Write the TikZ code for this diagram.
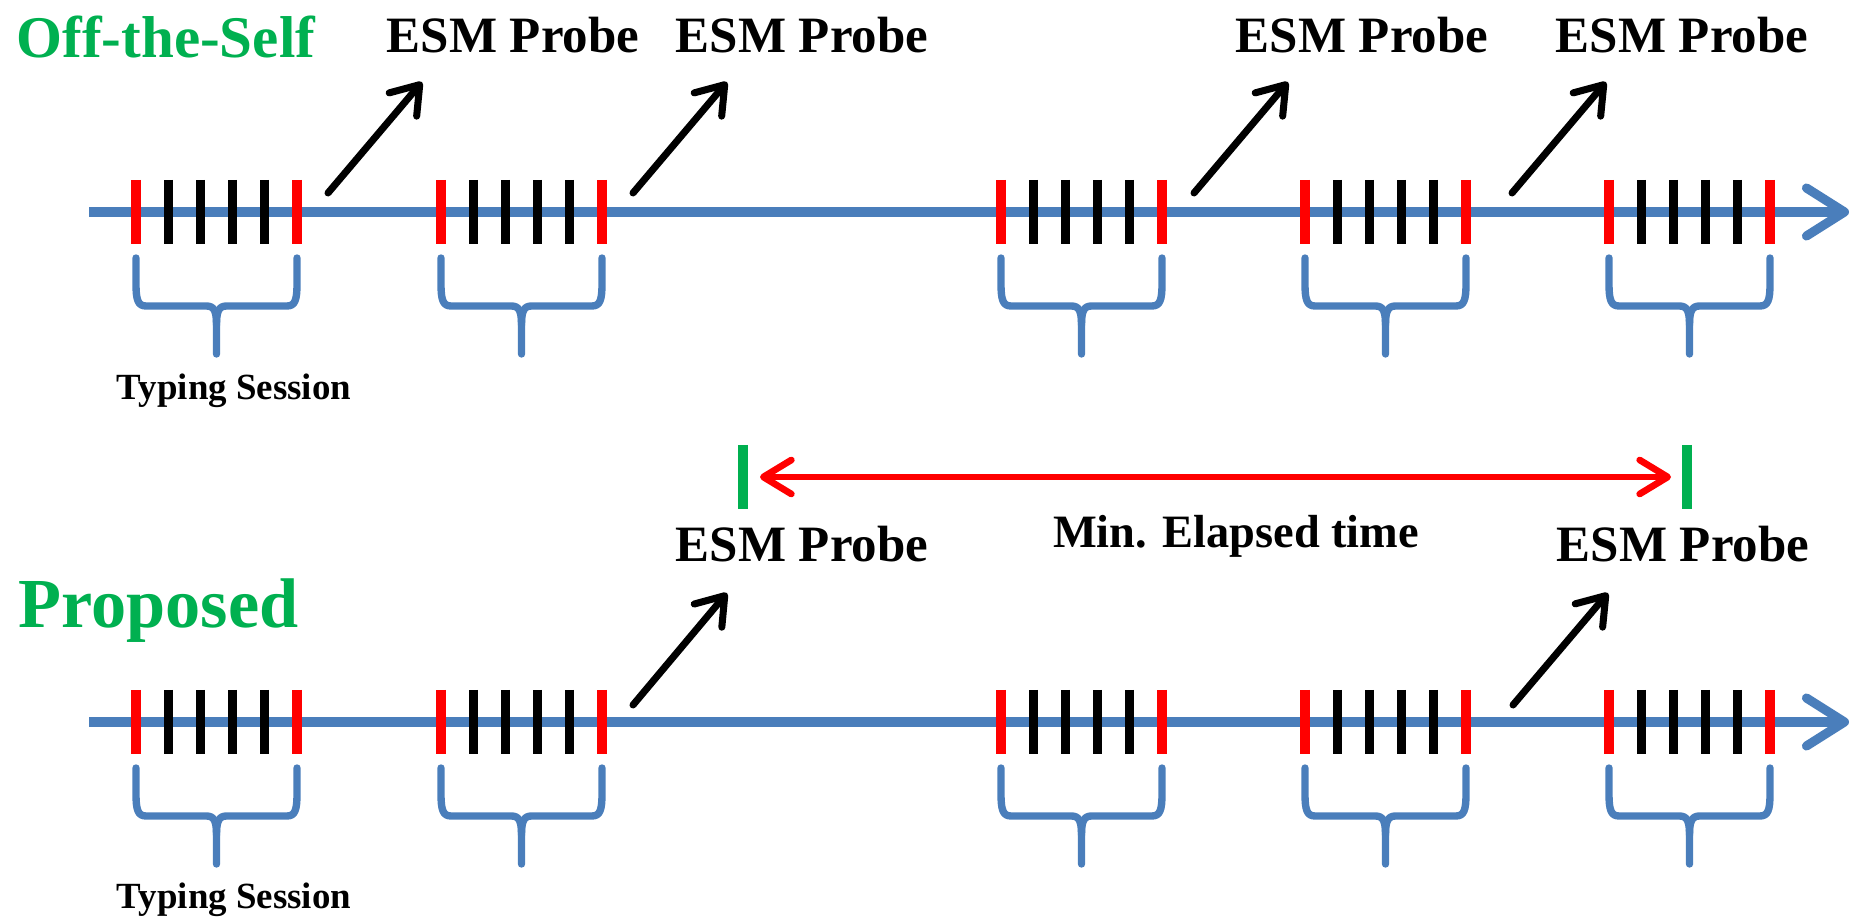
\documentclass[tikz,border=0pt]{standalone}
\usepackage{fontspec}
\setmainfont{Liberation Serif}
\usepackage{tikz}
\usetikzlibrary{arrows.meta}
\definecolor{axisblue}{HTML}{4A7EBB}
\definecolor{probegreen}{HTML}{00B050}
\definecolor{keyred}{HTML}{FF0000}

\begin{document}
\begin{tikzpicture}[
  x=0.1mm, y=-0.1mm,
  timeline/.style={axisblue, line width=2.6pt,
                   -{Straight Barb[length=3.8mm, width=4.8mm, round]}},
  keytick/.style={line width=2.6pt},
  sessbrace/.style={axisblue, line width=2.1pt, line cap=round, line join=round},
  probearrow/.style={line width=2pt, line cap=round,
                     -{Straight Barb[length=2.6mm, width=3.6mm, round]}},
  probelabel/.style={font=\fontsize{14.5}{16}\selectfont\bfseries,
                     anchor=base, inner sep=0pt},
  rowtitle/.style={text=probegreen, anchor=base west, inner sep=0pt},
  sesslabel/.style={font=\fontsize{10.5}{12}\selectfont\bfseries,
                    anchor=base, inner sep=0pt},
  gapbar/.style={probegreen, line width=2.8pt},
  gaparrow/.style={keyred, line width=1.9pt,
                   {Straight Barb[length=2.8mm, width=3.4mm, round]}-{Straight Barb[length=2.8mm, width=3.4mm, round]}}
]
\useasboundingbox (0,0) rectangle (1857,918);

% ---- Row (a): off-the-shelf probing after every session ----
\begin{scope}
  \node[rowtitle, font=\fontsize{16.8}{18}\selectfont\bfseries] (offself) at (16,58) {Off-the-Self};
  \coordinate (top-start) at (89,212);
  \coordinate (top-end) at (1849,212);
  \draw[timeline] (top-start) -- (top-end);
  \foreach \g/\L in {1/136,2/441,3/1001,4/1305,5/1609}{
    \pgfmathsetmacro{\R}{\L+161}
    \pgfmathsetmacro{\M}{\L+80.5}
    \foreach \k in {1,...,4}
      \draw[keytick, black] ({\L+32.2*\k},180) -- ++(0,64);
    \draw[keytick, keyred] (\L,180) -- ++(0,64);
    \draw[keytick, keyred] (\R,180) -- ++(0,64);
    % session brace under the keystrokes
    \draw[sessbrace] (\L,258) -- (\L,284) .. controls (\L,300) and ({\L+2},306) .. ({\L+10},306)
      -- ({\M-10},306) .. controls ({\M-2},306) and (\M,312) .. (\M,325) -- (\M,354);
    \draw[sessbrace] (\R,258) -- (\R,284) .. controls (\R,300) and ({\R-2},306) .. ({\R-10},306)
      -- ({\M+10},306) .. controls ({\M+2},306) and (\M,312) .. (\M,325);
  }
  \node[sesslabel] (sess-top) at (234,400) {Typing Session};
  \foreach \i/\tx/\px/\lx in {1/328/422/513, 2/633/727/802, 3/1194/1288/1362, 4/1512/1606/1682}{
    \node[probelabel] (probe-top-\i) at (\lx,53) {ESM Probe};
    \coordinate (tail-top-\i) at (\tx,193);
    \coordinate (tip-top-\i) at (\px,82);
    \draw[probearrow] (tail-top-\i) -- (tip-top-\i);
  }
\end{scope}

% ---- Row (b): proposed probing with a minimum gap ----
\begin{scope}
  \node[rowtitle, font=\fontsize{20}{22}\selectfont\bfseries] (proposed) at (18,628) {Proposed};
  \coordinate (bot-start) at (89,722);
  \coordinate (bot-end) at (1849,722);
  \draw[timeline] (bot-start) -- (bot-end);
  \foreach \g/\L in {1/136,2/441,3/1001,4/1305,5/1609}{
    \pgfmathsetmacro{\R}{\L+161}
    \pgfmathsetmacro{\M}{\L+80.5}
    \foreach \k in {1,...,4}
      \draw[keytick, black] ({\L+32.2*\k},690) -- ++(0,64);
    \draw[keytick, keyred] (\L,690) -- ++(0,64);
    \draw[keytick, keyred] (\R,690) -- ++(0,64);
    \draw[sessbrace] (\L,768) -- (\L,794) .. controls (\L,810) and ({\L+2},816) .. ({\L+10},816)
      -- ({\M-10},816) .. controls ({\M-2},816) and (\M,822) .. (\M,835) -- (\M,864);
    \draw[sessbrace] (\R,768) -- (\R,794) .. controls (\R,810) and ({\R-2},816) .. ({\R-10},816)
      -- ({\M+10},816) .. controls ({\M+2},816) and (\M,822) .. (\M,835);
  }
  \node[sesslabel] (sess-bot) at (234,908) {Typing Session};
  \foreach \i/\tx/\px/\lx in {1/633/727/802, 2/1513/1608/1683}{
    \node[probelabel] (probe-bot-\i) at (\lx,562) {ESM Probe};
    \coordinate (tail-bot-\i) at (\tx,705);
    \coordinate (tip-bot-\i) at (\px,593);
    \draw[probearrow] (tail-bot-\i) -- (tip-bot-\i);
  }
  % minimum elapsed time between two probes
  \coordinate (gap-left) at (743,477);
  \coordinate (gap-right) at (1687,477);
  \draw[gapbar] (743,445) -- (743,509);
  \draw[gapbar] (1687,445) -- (1687,509);
  \draw[gaparrow, shorten <=1.7mm, shorten >=1.6mm] (gap-left) -- (gap-right);
  \node[anchor=base, inner sep=0pt, font=\fontsize{13.2}{15}\selectfont\bfseries]
    (gap-label) at (1236,548) {Min. Elapsed time};
\end{scope}
\end{tikzpicture}
\end{document}
